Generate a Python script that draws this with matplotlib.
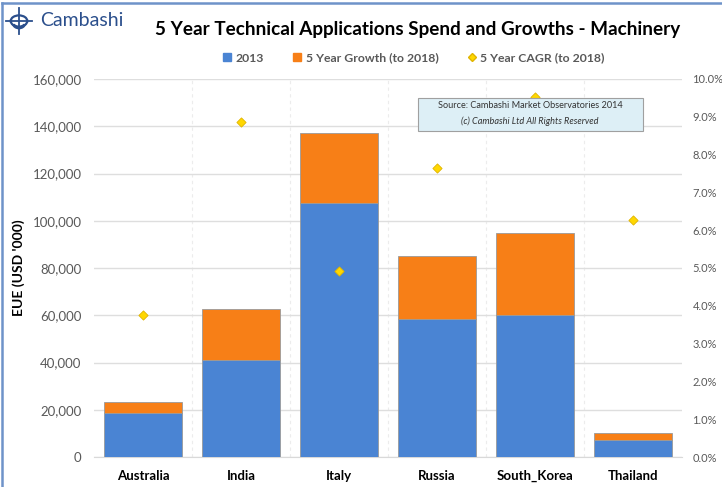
import matplotlib as mpl
from matplotlib import pyplot as plt
from matplotlib.lines import Line2D
from matplotlib.patches import Circle, Rectangle, Arc
from matplotlib.ticker import FuncFormatter, MultipleLocator
import numpy as np

countries = ['Australia', 'India', 'Italy', 'Russia', 'South_Korea', 'Thailand']
spend_2013 = [18800, 41100, 107400, 58600, 60200, 7200]
growth_5yr = [4300, 21700, 29700, 26300, 34600, 2900]
cagr_5yr = [3.75, 8.85, 4.92, 7.65, 9.52, 6.27]

plt.rcParams['font.family'] = ['Lato', 'DejaVu Sans']
grey = '#595959'
blue = '#4A84D3'
orange = '#F77F17'

fig = plt.figure(figsize=(7.22, 4.87), dpi=100)
ax = fig.add_axes([94/722, 30/487, 588/722, 378/487])
x = np.arange(len(countries))
ax.bar(x, spend_2013, width=0.8, color=blue, edgecolor='#9a9a9a', linewidth=0.6, zorder=3)
ax.bar(x, growth_5yr, width=0.8, bottom=spend_2013, color=orange,
       edgecolor='#9a9a9a', linewidth=0.6, zorder=3)
ax.set_xlim(-0.5, len(countries)-0.5)
ax.set_ylim(0, 160000)
ax.yaxis.set_major_locator(MultipleLocator(20000))
ax.yaxis.set_major_formatter(FuncFormatter(lambda v, p: f'{v:,.0f}'))
ax.set_xticks(x)
ax.set_xticklabels(countries, fontsize=9.5, fontweight='bold', color='black')
ax.tick_params(axis='y', labelsize=9.5, labelcolor=grey, length=0, pad=9)
ax.tick_params(axis='x', length=0, pad=9)
ax.grid(axis='y', color='#dedede', linewidth=1, zorder=0)
for b in np.arange(0.5, len(countries)-0.5, 1):
    ax.axvline(b, color='#ececec', linewidth=0.8, linestyle=(0, (3, 3)), zorder=0)
for s in ['top', 'right', 'left']:
    ax.spines[s].set_visible(False)
ax.spines['bottom'].set_color('#d9d9d9')
ax.set_ylabel("EUE (USD '000)", fontsize=10, fontweight='bold', labelpad=5)

ax2 = ax.twinx()
ax2.scatter(x, cagr_5yr, marker='D', s=22, color='#FFD700', edgecolor='#E0B400',
            linewidth=0.6, zorder=5)
ax2.set_ylim(0, 10)
ax2.yaxis.set_major_locator(MultipleLocator(1))
ax2.yaxis.set_major_formatter(FuncFormatter(lambda v, p: f'{v:.1f}%'))
ax2.tick_params(axis='y', labelsize=8, labelcolor=grey, length=0, pad=7.5)
for s in ['top', 'right', 'left', 'bottom']:
    ax2.spines[s].set_visible(False)

# source box
fig.patches.append(Rectangle((418/722, 1-131/487), 225/722, 33/487, transform=fig.transFigure,
                             facecolor='#DDEFF6', edgecolor='#a0a0a0', linewidth=0.8, zorder=6))
fig.text(530/722, 1-106/487, 'Source: Cambashi Market Observatories 2014', fontsize=6.6,
         ha='center', va='center', color='#333333', zorder=7)
fig.text(530/722, 1-121/487, '(c) Cambashi Ltd All Rights Reserved', fontsize=6.6,
         style='italic', ha='center', va='center', color='#333333', zorder=7)

# title
fig.text(418/722, 1-30/487, '5 Year Technical Applications Spend and Growths - Machinery',
         fontsize=13.6, fontweight='bold', ha='center', va='center')

# legend
handles = [Line2D([], [], marker='s', linestyle='none', color=blue, markersize=5.5),
           Line2D([], [], marker='s', linestyle='none', color=orange, markersize=5.5),
           Line2D([], [], marker='D', linestyle='none', color='#FFD700',
                  markeredgecolor='#E0B400', markersize=4)]
leg = fig.legend(handles, ['2013', '5 Year Growth (to 2018)', '5 Year CAGR (to 2018)'],
                 loc='center', bbox_to_anchor=(413/722, 1-58/487), ncol=3, frameon=False,
                 handletextpad=0.2, columnspacing=2.2, handlelength=1.0,
                 prop={'size': 8.8, 'weight': 'bold'})
for t in leg.get_texts():
    t.set_color(grey)

# logo
logo = '#2B4F8C'
cx, cy = 19/722, 1-21/487
fig.patches.append(Circle((cx, cy), 0.0115, transform=fig.transFigure,
                          facecolor='none', edgecolor=logo, linewidth=1.6))
fig.add_artist(Line2D([6/722, 32/722], [cy, cy], color=logo, linewidth=1.3))
fig.add_artist(Line2D([cx, cx], [1-8/487, 1-34/487], color=logo, linewidth=1.3))
fig.patches.append(Arc((cx, cy - 0.004), 0.016, 0.02, theta1=200, theta2=340,
                       transform=fig.transFigure, color=logo, linewidth=2.2))
fig.text(40/722, 1-21/487, 'Cambashi', fontsize=14, color=logo, ha='left', va='center')

# frame lines
fig.add_artist(Line2D([2/722, 2/722], [0, 1-3/487], color='#6E93C9', linewidth=1.8))
fig.add_artist(Line2D([2/722, 1], [1-3/487, 1-3/487], color='#6E93C9', linewidth=1.8))

fig.savefig('out.png', dpi=100)
